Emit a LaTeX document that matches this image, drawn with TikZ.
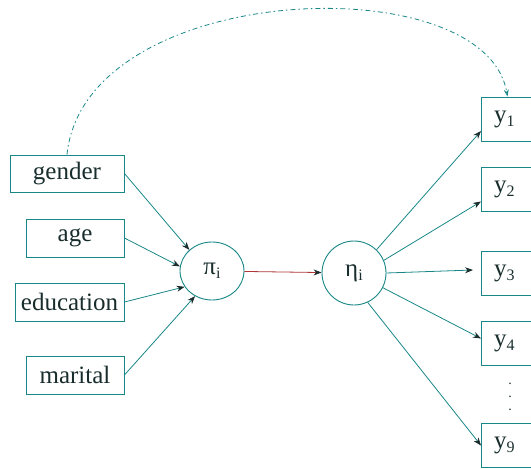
\documentclass[tikz,border=0pt]{standalone}
\usepackage{fontspec}
\setmainfont{Liberation Serif}
\usetikzlibrary{arrows.meta,shapes.geometric}
\definecolor{lineteal}{RGB}{25,135,135}
\definecolor{inkdark}{RGB}{25,45,45}
\definecolor{pathred}{RGB}{175,55,55}
\tikzset{
  varbox/.style={draw=lineteal, line width=0.9pt, rectangle, inner sep=0pt, text=inkdark,
    font=\fontsize{25}{30}\selectfont},
  ybox/.style={varbox, minimum width=56pt, minimum height=44pt, anchor=west},
  latent/.style={draw=lineteal, line width=0.9pt, ellipse, inner sep=0pt, text=inkdark,
    font=\fontsize{25}{30}\selectfont},
  conn/.style={draw=lineteal, line width=0.8pt, -{Stealth[length=8pt,width=6pt,color=inkdark]}}
}
\newcommand{\sbs}[1]{\raisebox{-0.35ex}{\fontsize{16}{16}\selectfont #1}}
\begin{document}
\begin{tikzpicture}[x=1pt,y=-1pt]
\useasboundingbox (0,0) rectangle (531,469);
% exogenous boxes
\node[varbox, minimum width=114pt, minimum height=37pt] (gender) at (67,173.5) {gender};
\node[varbox, minimum width=98pt, minimum height=38pt] (age) at (75,238) {age};
\node[varbox, minimum width=109pt, minimum height=38pt] (edu) at (69.5,302) {education};
\node[varbox, minimum width=98pt, minimum height=38pt] (marital) at (75,375) {marital};
% latent
\node[latent, minimum width=64pt, minimum height=58pt] (pi) at (212,271) {π\sbs{i}};
\node[latent, minimum width=64pt, minimum height=64pt] (eta) at (354,273) {η\sbs{i}};
% indicators
\node[ybox] (y1) at (481,119) {\hspace*{-10pt}y\sbs{1}};
\node[ybox] (y2) at (481,189.5) {\hspace*{-10pt}y\sbs{2}};
\node[ybox] (y3) at (481,273) {\hspace*{-10pt}y\sbs{3}};
\node[ybox] (y4) at (481,343.5) {\hspace*{-10pt}y\sbs{4}};
\node[ybox] (y9) at (481,445.5) {\hspace*{-10pt}y\sbs{9}};
\node[text=inkdark, inner sep=0pt, align=center, font=\fontsize{14}{13}\selectfont] (dots) at (510,397) {.\\.\\.};
% connectors
\draw[conn] (gender.east) -- (pi.137);
\draw[conn] (age.east) -- (pi.172);
\draw[conn] (edu.east) -- (pi.210);
\draw[conn] (marital.east) -- (pi.236);
\draw[conn, draw=pathred] (pi) -- (eta);
\draw[conn] (eta.46) -- ([yshift=-12pt]y1.west);
\draw[conn] (eta.23) -- ([yshift=-12pt]y2.west);
\draw[conn] (eta.0) -- ([xshift=-8pt,yshift=3pt]y3.west);
\draw[conn] (eta.-27) -- ([yshift=5pt]y4.west);
\draw[conn] (eta.-65) -- (y9.west);
\draw[draw=lineteal, line width=0.8pt, dash pattern=on 5pt off 3pt on 1.5pt off 3pt,
  -{Stealth[length=7pt,width=5pt,open]}]
  (gender.north) .. controls (85,-20) and (485,-35) .. ([xshift=-2pt]y1.north);
\end{tikzpicture}
\end{document}
